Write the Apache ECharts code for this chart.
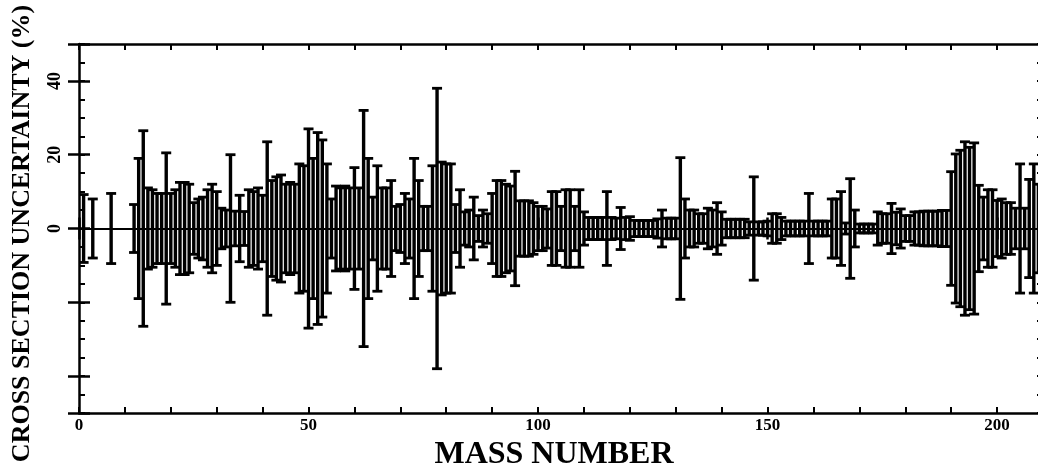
<!DOCTYPE html>
<html>
<head>
<meta charset="utf-8">
<script src="https://cdn.jsdelivr.net/npm/echarts@6/dist/echarts.min.js"></script>
<style>
html,body{margin:0;padding:0;background:#fff;overflow:hidden;}
#chart{width:1050px;height:465px;}
</style>
</head>
<body>
<div id="chart"></div>
<script>
// Mass numbers and their cross-section uncertainty (%)
const massNumbers = [
  1, 3, 7,
  12, 13, 14, 15, 16, 17, 18, 19, 20, 21, 22, 23, 24, 25, 26, 27, 28, 29, 30,
  31, 32, 33, 34, 35, 36, 37, 38, 39, 40, 41, 42, 43, 44, 45, 46, 47, 48, 49, 50,
  51, 52, 53, 54, 55, 56, 57, 58, 59, 60, 61, 62, 63, 64, 65, 66, 67, 68, 69, 70,
  71, 72, 73, 74, 75, 76, 77, 78, 79, 80, 81, 82, 83, 84, 85, 86, 87, 88, 89, 90,
  91, 92, 93, 94, 95, 96, 97, 98, 99, 100, 101, 102, 103, 104, 105, 106, 107, 108, 109, 110,
  111, 112, 113, 114, 115, 116, 117, 118, 119, 120, 121, 122, 123, 124, 125, 126, 127, 128, 129, 130,
  131, 132, 133, 134, 135, 136, 137, 138, 139, 140, 141, 142, 143, 144, 145, 146, 147, 148, 149, 150,
  151, 152, 153, 154, 155, 156, 157, 158, 159, 160, 161, 162, 163, 164, 165, 166, 167, 168, 169, 170,
  171, 172, 173, 174, 175, 176, 177, 178, 179, 180, 181, 182, 183, 184, 185, 186, 187, 188, 189, 190,
  191, 192, 193, 194, 195, 196, 197, 198, 199, 200, 201, 202, 203, 204, 205, 206, 207, 208, 209
];
const uncertainties = [
  9.2, 8, 9.5,
  6.5, 19, 26.5, 11, 10.5, 9.5, 9.5, 20.5, 9.5, 10.5, 12.5, 12.5, 12, 7, 8, 8.5, 10.5, 12, 10,
  5.5, 5, 20, 4.7, 9, 4.6, 10.5, 10, 11, 9, 23.5, 13, 14, 14.5, 12, 12.5, 12, 17.5, 17, 27,
  19, 26, 24, 17.5, 8, 11.5, 11, 11.5, 11, 16.5, 11, 32, 19, 8.5, 17, 11, 11, 13, 6, 6.5,
  9.5, 8, 19, 13, 6, 6, 17, 38, 18, 17.5, 17.5, 6.5, 10.5, 4.5, 5, 8.5, 3.5, 5, 4, 9.5,
  13, 13, 12, 11.5, 15.5, 7.5, 7.5, 7.5, 7, 6, 6, 5.3, 10, 10, 6, 10.5, 10.5, 6, 10.5, 4.5,
  3, 3, 3, 3, 10, 3, 2.8, 5.7, 3, 3.2, 2.2, 2.2, 2.2, 2.2, 2.2, 2.6, 5, 2.8, 2.8, 2.8,
  19.2, 8, 5, 5, 4, 4, 5.5, 5, 7, 4.5, 2.5, 2.5, 2.5, 2.5, 2.5, 1.8, 14, 1.8, 1.8, 2,
  4, 4, 3, 2, 2, 2, 2, 2, 9.5, 2, 2, 2, 2, 8, 8, 10, 1.5, 13.5, 5, 1.2,
  1.2, 1.2, 1.2, 4.5, 4, 4, 6.8, 4.4, 5.3, 3.5, 3.5, 4.5, 4.5, 4.7, 4.7, 4.7, 4.7, 4.9, 4.9, 15.4,
  20.2, 21.2, 23.5, 22, 23.2, 11.7, 8.5, 10.5, 10.5, 7.6, 8, 7, 7, 5.5, 17.5, 5.5, 13.3, 17.5, 12
];
const xTickLabels = [0, 50, 100, 150, 200];
const yTickLabels = [0, 20, 40];

const FONT = 'Liberation Serif';
const gridRect = {left: 79, top: 44, width: 964, height: 369, containLabel: false, outerBoundsMode: 'none'};
const black = '#000';

const chart = echarts.init(document.getElementById('chart'), null, {renderer: 'canvas'});

function minorAxis(pos, interval, min, max) {
  return {
    type: 'value', position: pos, min: min, max: max, interval: interval,
    axisLine: {show: true, onZero: false, lineStyle: {color: black, width: 2.5}},
    axisTick: {show: true, inside: true, length: 6, lineStyle: {color: black, width: 2}},
    axisLabel: {show: false}, splitLine: {show: false}
  };
}

const option = {
  backgroundColor: '#fff',
  animation: false,
  grid: [
    Object.assign({}, gridRect),
    Object.assign({}, gridRect)
  ],
  xAxis: [
    Object.assign(minorAxis('bottom', 10, 0, 210), {gridIndex: 0}),
    Object.assign(minorAxis('top', 10, 0, 210), {gridIndex: 0}),
    {
      gridIndex: 1, type: 'value', position: 'bottom', min: 0, max: 210, interval: 50,
      axisLine: {show: false},
      axisTick: {show: true, inside: true, length: 11, lineStyle: {color: black, width: 2.5}},
      axisLabel: {
        show: true, margin: 4, color: black, fontFamily: FONT, fontWeight: 'bold', fontSize: 17,
        formatter: v => xTickLabels.indexOf(v) >= 0 ? String(v) : ''
      },
      splitLine: {show: false},
      name: 'MASS NUMBER', nameLocation: 'middle', nameGap: 20,
      nameTextStyle: {color: black, fontFamily: FONT, fontWeight: 'bold', fontSize: 32, padding: [0, 14, 0, 0]}
    },
    {
      gridIndex: 1, type: 'value', position: 'top', min: 0, max: 210, interval: 50,
      axisLine: {show: false},
      axisTick: {show: true, inside: true, length: 11, lineStyle: {color: black, width: 2.5}},
      axisLabel: {show: false}, splitLine: {show: false}
    }
  ],
  yAxis: [
    Object.assign(minorAxis('left', 5, -50, 50), {gridIndex: 0}),
    Object.assign(minorAxis('right', 5, -50, 50), {gridIndex: 0}),
    {
      gridIndex: 1, type: 'value', position: 'left', min: -50, max: 50, splitNumber: 5,
      axisLine: {show: false},
      axisTick: {show: true, inside: true, length: 11, lineStyle: {color: black, width: 2.5}},
      axisLabel: {
        show: true, margin: 15, rotate: 90, color: black, fontFamily: FONT, fontWeight: 'bold', fontSize: 18,
        formatter: v => yTickLabels.indexOf(v) >= 0 ? String(v) : ''
      },
      splitLine: {show: false},
      name: 'CROSS SECTION UNCERTAINTY (%)', nameLocation: 'middle', nameGap: 44, nameRotate: 90,
      nameTextStyle: {color: black, fontFamily: FONT, fontWeight: 'bold', fontSize: 26, padding: [0, 10, 0, 0]}
    },
    {
      gridIndex: 1, type: 'value', position: 'right', min: -50, max: 50, splitNumber: 5,
      axisLine: {show: false},
      axisTick: {show: true, inside: true, length: 11, lineStyle: {color: black, width: 2.5}},
      axisLabel: {show: false}, splitLine: {show: false}
    }
  ],
  series: [
    {
      type: 'custom',
      xAxisIndex: 0, yAxisIndex: 0,
      data: massNumbers.map((a, i) => [a, uncertainties[i]]),
      clip: true,
      renderItem: function (params, api) {
        const a = api.value(0);
        const u = api.value(1);
        const top = api.coord([a, u]);
        const bot = api.coord([a, -u]);
        const hw = 5;
        const st = {stroke: black, lineWidth: 3.4};
        const cap = {stroke: black, lineWidth: 2.8};
        return {
          type: 'group',
          children: [
            {type: 'line', shape: {x1: top[0], y1: top[1], x2: bot[0], y2: bot[1]}, style: st},
            {type: 'line', shape: {x1: top[0] - hw, y1: top[1], x2: top[0] + hw, y2: top[1]}, style: cap},
            {type: 'line', shape: {x1: bot[0] - hw, y1: bot[1], x2: bot[0] + hw, y2: bot[1]}, style: cap}
          ]
        };
      },
      markLine: {
        silent: true, symbol: ['none', 'none'], label: {show: false},
        lineStyle: {color: black, width: 2, type: 'solid'},
        data: [{yAxis: 0}]
      }
    }
  ]
};
chart.setOption(option);
</script>
</body>
</html>
